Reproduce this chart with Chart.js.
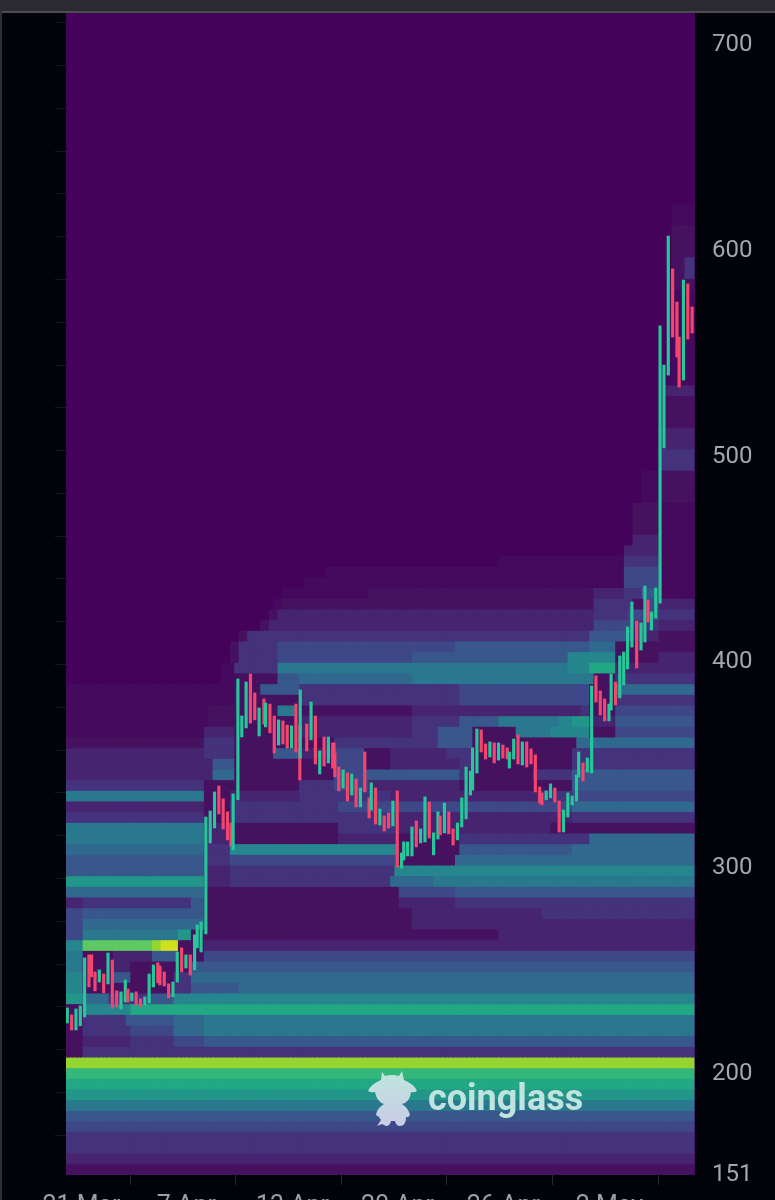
<!DOCTYPE html>
<html><head><meta charset="utf-8">
<script src="https://cdn.jsdelivr.net/npm/chart.js@4"></script>
<style>
html,body{margin:0;padding:0;width:775px;height:1200px;overflow:hidden;background:#02030a}
#c{position:absolute;left:0;top:0}
#strip{position:absolute;left:0;top:0;width:775px;height:11px;background:#2b2a30;border-bottom:2px solid #4b4b52;z-index:3}
#edge{position:absolute;left:0;top:11px;width:2px;height:1189px;background:#2d3036;z-index:3}
#logo{position:absolute;left:428px;top:1076px;font:700 36px Roboto,sans-serif;color:#bfe3de;line-height:44px;z-index:4}
#cow{position:absolute;left:362px;top:1066px;z-index:4}
</style></head><body>
<div id="strip"></div><div id="edge"></div>
<canvas id="c" width="775" height="1216"></canvas>
<svg id="cow" width="62" height="64" viewBox="0 0 62 64"><defs><linearGradient id="g" x1="0" y1="0" x2="0" y2="1"><stop offset="0" stop-color="#bfe6dc"/><stop offset="1" stop-color="#c9cbe6"/></linearGradient></defs>
<path fill="url(#g)" d="M20 6 L23 10 Q30 8 37 10 L40 5 L42 14 Q52 18 55 25 Q52 27 49 26 Q48 36 40 38 Q47 43 48 49 Q46 52 44 51 Q44 60 38 60 Q34 60 33 55 L29 55 Q28 60 24 60 L20 58 L15 60 L19 54 Q17 50 14 49 Q15 42 22 38 Q15 36 13 26 Q9 27 6 25 Q9 18 19 14 Z"/></svg>
<div id="logo">coinglass</div>
<script>
const palette = {0:'#44025a',g:'#450a5d',1:'#461260',2:'#472470',3:'#44337c',4:'#3e4787',5:'#38578b',6:'#31688e',7:'#2a788e',8:'#25868e',9:'#219689',a:'#22a884',b:'#35b779',c:'#5ec962',d:'#95d52f',e:'#cfe01f',f:'#fde725'};
const yTickValues = [151,200,300,400,500,600,700];
const xTickSlots = [2.77,27,51.5,75.75,100.2,124.7];
const xTickLabels = ['21 Mar','7 Apr','13 Apr','20 Apr','26 Apr','2 May'];
const binBase = 201.62, binSize = 5.186, columnCount = 145;
const heatRows = [
[-10,"0:1"],[-9,"0:2"],[-8,"0:3"],[-7,"0:3"],[-6,"0:4"],[-5,"0:5"],[-4,"0:7"],[-3,"0:9"],[-2,"0:a"],[-1,"0:b"],[0,"0:d"],
[1,"0:1 4:3"],
[2,"0:1 4:2 15:3 25:4 32:5"],
[3,"0:1 4:3 15:4 25:6 32:7"],
[4,"0:1 4:3 14:5 25:6 32:7"],
[5,"0:1 4:8 15:a"],
[6,"0:9 4:6 10:3 19:5 25:8"],
[7,"0:8 4:1 25:3 29:5 40:6"],
[8,"0:8 4:1 11:5 15:1 25:3 29:6"],
[9,"0:7 4:1 11:2 15:1 29:5"],
[10,"0:7 4:1 11:2 20:5 26:1 32:4"],
[11,"0:8 4:c 20:d 22:e 26:1 32:2"],
[12,"0:4 4:7 26:9 29:1 100:2"],
[13,"0:4 4:6 32:1 80:2"],
[14,"0:4 4:5 32:1 80:2 110:3"],
[15,"0:2 4:3 29:5 32:1 77:2 90:3"],
[16,"0:6 32:1 77:4 90:5"],
[17,"0:9 32:2 38:3 75:6 85:7"],
[18,"0:5 32:2 38:3 76:8"],
[19,"0:5 32:3 38:4 77:1 90:6"],
[20,"0:6 32:3 38:8 77:1 91:5 117:6"],
[21,"0:7 32:2 38:1 63:2 77:1 91:3 121:6"],
[22,"0:7 32:2 38:1 63:3 77:2 112:1"],
[23,"0:3 32:1 38:3 77:2 117:3"],
[24,"0:2 32:1 38:3 63:4 117:6"],
[25,"0:7 32:1 38:2 54:3 75:2 91:2 109:3 117:4"],
[26,"0:3 32:1 54:3 62:4 70:2 91:1 117:5"],
[27,"0:2 34:6 39:1 62:4 69:5 91:3 93:1 108:3 117:5"],
[28,"0:2 34:5 39:1 62:4 69:1 75:2 91:3 94:1 117:3"],
[29,"0:2 32:3 39:1 48:5 54:2 62:4 69:1 75:2 88:3 94:1 117:3"],
[30,"0:1 32:3 39:1 62:3 86:5 94:1 118:6"],
[31,"0:g 32:2 39:1 54:2 80:3 86:5 94:1 104:7 112:8 121:1 127:4"],
[32,"0:g 33:1 54:2 80:3 91:5 100:7 114:8 117:9 121:2 127:5"],
[33,"0:g 33:1 49:7 53:1 80:2 119:3 121:1 127:4"],
[34,"0:g 39:1 54:3 91:4 121:1 127:3"],
[35,"0:g 39:1 45:5 54:3 91:4 121:1 127:6"],
[36,"0:0 36:g 40:1 49:5 54:6 80:7 122:1 127:3"],
[37,"0:0 36:g 39:3 49:7 116:8 121:a 127:2"],
[38,"0:0 38:1 40:3 49:4 80:5 116:8 127:1 137:2"],
[39,"0:0 38:1 40:3 49:4 90:5 121:6 127:1 137:1"],
[40,"0:0 40:1 42:3 121:5 131:2 137:1"],
[41,"0:0 45:1 47:2 122:4 131:3 137:2"],
[42,"0:0 47:1 49:2 122:3 130:4 137:3"],
[43,"0:0 48:g 50:1 122:3 131:1 134:4 137:2"],
[44,"0:0 50:g 70:1 122:2 129:3 133:5 137:g"],
[45,"0:0 55:g 129:4 137:g"],
[46,"0:0 60:g 129:4 137:g"],
[47,"0:0 100:g 129:3 137:g"],
[48,"0:0 129:2 137:g"],
[49,"0:0 131:2 137:g"],
[50,"0:0 131:1 137:g"],[51,"0:0 131:1 137:g"],[52,"0:0 131:1 137:g"],[53,"0:0 133:g 137:1"],[54,"0:0 133:g 137:1"],[55,"0:0 133:g 137:1"],
[56,"0:0 137:3"],[57,"0:0 137:3"],[58,"0:0 137:2"],[59,"0:0 137:2"],[60,"0:0 137:1"],[61,"0:0 137:1"],[62,"0:0 137:1"],[63,"0:0 138:2"],
[64,"0:0 139:g"],[65,"0:0 139:g"],[66,"0:0 139:g"],[67,"0:0 139:g"],[68,"0:0 139:g"],[69,"0:0 139:g"],[70,"0:0 139:g"],[71,"0:0 139:g"],[72,"0:0 139:g"],[73,"0:0 139:1"],
[74,"0:0 140:1 143:3"],[75,"0:0 140:1 143:3"],[76,"0:0 140:1"],[77,"0:0 140:1"],[78,"0:0 140:1"],[79,"0:0 140:g"],[80,"0:0 140:g"]
];
const candleSlot = [0.3,1.3,2.3,3.3,4.3,5.3,5.9,6.7,7.7,8.7,9.7,10.7,11.7,12.7,13.7,14.3,15.2,16.2,17.2,18.2,19.2,20.2,21.2,21.7,22.7,23.7,24.7,25.7,26.7,27.7,28.7,29.7,30.3,31.2,32.3,
33.3,34.3,35.3,36.3,37.3,38.1,38.6,39.7,40.6,41.6,42.6,43.6,44.6,45.7,46.1,47.1,48.1,49.1,50.1,51.1,52.1,53.1,54,54.1,55.6,56.6,57.6,58.6,59.6,60.6,61.6,61.9,62.1,63,64,65,66,67,68,69,70,70.5,71.5,72.5,73.5,74.5,75.5,76.5,77.5,78,78.9,79.9,80.9,81.9,82.9,83.9,84.9,85.9,86.4,87.4,88.4,89.4,90.4,
91.4,92.4,93.4,93.9,94.9,95.9,96.9,97.9,98.9,99.9,100.9,101.9,102.4,103.4,104.4,105.4,106.4,107.4,108.4,109.4,109.9,110.9,111.9,112.9,113.9,114.9,115.9,116.9,117.9,118.4,119.4,120.4,121.4,122.4,123.4,124.4,125.4,125.9,126.9,
127.9,128.8,129.7,130.7,131.8,132.8,133.7,134.4,135.2,136.2,137.2,138.1,139.1,140.1,141.1,141.6,142.6,143.6,144.6];
const candleOpen = [223.8,227.7,220.4,222.4,226.7,256.9,256.9,248.6,243.7,247.6,242.8,254.4,239.4,230.6,234,240.3,234.5,238.9,235.5,232.6,233.5,241.3,253,251.5,248.6,242.8,236.5,243.7,260.3,250.5,256.9,249.6,260.3,258.3,267.1,
311.3,318.6,339,332.7,326.4,321,307.9,332.2,362.8,367.2,393.4,384.2,363.3,381.3,367.7,378.8,373,358.9,370.6,368.6,357.5,378.8,368.6,352.6,369.1,361.4,373,344.8,362.8,350.2,359.9,359.9,355,348.2,338,345.3,334.6,342.4,328.8,355.5,333.2,327.3,338,320,324.4,325.9,319.6,336.6,299.1,303,305,305,322,311.3,311.8,331.2,305.5,313.2,324.4,316.2,326.4,318.1,312.8,
319.1,323,334.6,337,345.3,366.2,359.4,353.1,359.9,351.6,358.9,357.5,347.7,352.1,363.8,349.2,360.4,357,354.1,338.5,335.6,332.2,333.2,338,331.7,316.6,323.9,329.8,331.7,343.4,350.2,345.8,345.3,392.5,385.2,381.3,370.6,375.9,389.5,
381.8,388.1,395.9,406.5,419.2,405.1,409,429.4,414.8,420.6,427.9,503.3,538.7,590.3,574.2,557.2,536.3,583,571.8];
const candleClose = [231.1,220.4,230.6,232.1,255.4,241.3,246.2,239.4,249.6,238.4,257.8,231.1,231.6,238.9,244.7,234,238.4,232.6,231.6,236.5,247.6,252,243.3,242.3,241.8,236,243.7,258.3,248.6,256.9,247.1,266.6,271.4,272.9,323.9,
326.8,336.1,325.4,318.1,312.8,309.8,335.1,391,373,389.5,369.6,371.1,376.9,369.1,379.3,364.8,355,371.1,359.4,357.5,368.2,355.5,341.9,385.7,356,379.8,349.7,356,348.7,362.8,347.7,347.7,343.4,336.6,346.8,331.7,344.8,328.8,338,336.1,323.4,340.5,320.5,327.8,317.1,318.6,331.7,299.6,306.4,311.8,311.8,319.1,309.4,318.1,333.7,313.7,316.2,326.4,315.2,330.7,315.7,310.3,321,
333.2,348.2,346.3,357.5,366.7,355.5,352.1,360.4,350.2,359.9,352.6,352.1,355.5,361.8,349.7,360.4,348.2,349.7,336.1,330.7,329.8,336.6,340,331.2,316.6,327.3,335.6,334.1,344.3,355.5,341.4,352.6,387.6,379.8,373.5,370.6,378.8,393.4,378.4,
402.2,404.1,416.3,428.4,396.3,418.2,436.2,418.7,423.6,435.2,562.6,543.6,606.3,557.2,547.5,532.9,584.9,556.2,559.2];

function expandRow(runs){
  const parts = runs.split(' ').map(p=>p.split(':'));
  const levels = [];
  for(let s=0;s<columnCount;s++){
    let l='0';
    for(const [start,lv] of parts){ if(s>=+start) l=lv; }
    levels.push(l);
  }
  return levels;
}
const heatDatasets = heatRows.map(([k,runs])=>{
  const levels = expandRow(runs), data=[], colors=[];
  const lo = binBase+k*binSize, hi = lo+binSize;
  levels.forEach((l,s)=>{ if(l!=='0'){ data.push({x:s+0.5,y:[lo,hi]}); colors.push(palette[l]); } });
  return {type:'bar',data,backgroundColor:colors,barThickness:5,grouped:false,order:2,yAxisID:'y',borderWidth:0};
});
const candleData = candleSlot.map((s,i)=>({x:s,y:[Math.min(candleOpen[i],candleClose[i]),Math.max(candleOpen[i],candleClose[i])]}));
const candleColors = candleSlot.map((s,i)=>candleClose[i]>=candleOpen[i]?'#25c79b':'#f2466f');
const candleSet = {type:'bar',data:candleData,backgroundColor:candleColors,barThickness:2.5,grouped:false,order:1,yAxisID:'y',borderWidth:0};
const plotBg = {id:'plotBg',beforeDatasetsDraw(ch){const a=ch.chartArea,c=ch.ctx;c.save();c.fillStyle=palette[0];c.fillRect(a.left,a.top,a.width,a.height);c.restore();}};
const yMin=149.9,yMax=714.7;
function noPad(a){a.paddingTop=0;a.paddingBottom=0;a.paddingLeft=0;a.paddingRight=0;}
new Chart(document.getElementById('c'),{
  type:'bar',
  data:{datasets:[...heatDatasets,candleSet]},
  plugins:[plotBg],
  options:{
    responsive:false,animation:false,
    layout:{padding:{top:13,left:0,right:0,bottom:0}},
    plugins:{legend:{display:false},tooltip:{enabled:false}},
    scales:{
      x:{type:'linear',min:0,max:145.27,offset:false,
        grid:{drawOnChartArea:false,tickLength:10,color:'#25272e'},border:{display:false},
        afterBuildTicks(a){a.ticks=xTickSlots.map(v=>({value:v}));},
        afterFit(a){a.height=41;noPad(a);},
        ticks:{autoSkip:false,maxRotation:0,padding:7,labelOffset:3.5,color:'#9b9fa6',font:{family:'Roboto',size:25},
          callback(v){return xTickLabels[xTickSlots.indexOf(v)];}}},
      y:{type:'linear',position:'right',min:yMin,max:yMax,
        grid:{display:false},border:{display:false},
        afterBuildTicks(a){a.ticks=yTickValues.map(v=>({value:v}));},
        afterFit(a){a.width=80;noPad(a);},
        ticks:{autoSkip:false,padding:9,labelOffset:2,color:'#a4a7ad',font:{family:'Roboto',size:24},callback(v){return String(v);}}},
      yL:{type:'linear',position:'left',min:yMin,max:yMax,
        grid:{drawOnChartArea:false,tickLength:11,color:'#15181e'},border:{display:false},
        afterBuildTicks(a){const t=[];for(let v=710;v>150;v-=20.8)t.push({value:v});a.ticks=t;},
        afterFit(a){a.width=66;noPad(a);},
        ticks:{autoSkip:false,display:false}}
    }
  }
});
</script>
</body></html>
